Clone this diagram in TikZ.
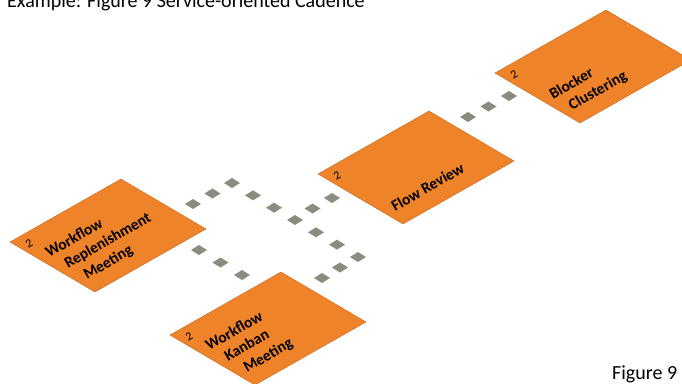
\documentclass[tikz,border=0pt]{standalone}
\usepackage{fontspec}
\setmainfont{Carlito}
\usetikzlibrary{calc}
\definecolor{boxorange}{RGB}{239,131,41}
\definecolor{boxedge}{RGB}{196,104,32}
\definecolor{sqgray}{RGB}{140,139,128}
\tikzset{
  card/.style={fill=boxorange,draw=boxedge,line width=0.4pt},
  cardtext/.style={anchor=base west,rotate=30,inner sep=0pt,font=\fontsize{15.5}{15.5}\selectfont\bfseries},
  cardnum/.style={anchor=center,rotate=30,inner sep=0pt,font=\fontsize{12}{12}\selectfont},
  caption/.style={anchor=base west,inner sep=0pt,font=\fontsize{20}{20}\selectfont},
  sq/.pic={\fill[sqgray] (-8,0) -- (0,-5) -- (8,0) -- (0,5) -- cycle;}
}
\begin{document}
\begin{tikzpicture}[x=1pt,y=-1pt]
\useasboundingbox (0,0) rectangle (682,383);
% corners of the four cards (left corner; u=(111,-63), v=(85,50))
\foreach \nm/\lx/\ly in {wrm/10/242, kan/170/335, flow/318/174, blk/495/73}{
  \coordinate (\nm L) at (\lx,\ly);
  \coordinate (\nm T) at ($(\nm L)+(111,-63)$);
  \coordinate (\nm R) at ($(\nm L)+(196,-13)$);
  \coordinate (\nm B) at ($(\nm L)+(85,50)$);
  \coordinate (\nm 1) at ($(\nm L)+(39,16)$);
  \coordinate (\nm 2) at ($(\nm L)+(58,27)$);
  \coordinate (\nm 3) at ($(\nm L)+(77,38)$);
  \draw[card] (\nm L) -- (\nm T) -- (\nm R) -- (\nm B) -- cycle;
  \node[cardnum] (\nm num) at ($(\nm L)+(19,2)$) {2};
}
% card texts
\node[cardtext] (wrmA) at (wrm1) {Workflow};
\node[cardtext] (wrmB) at (wrm2) {Replenishment};
\node[cardtext] (wrmC) at (wrm3) {Meeting};
\node[cardtext] (kanA) at (kan1) {Workflow};
\node[cardtext] (kanB) at (kan2) {Kanban};
\node[cardtext] (kanC) at (kan3) {Meeting};
\node[cardtext] (flowA) at (flow3) {Flow Review};
\node[cardtext] (blkA) at (blk2) {Blocker};
\node[cardtext] (blkB) at (blk3) {Clustering};
% dashed isometric connectors
\coordinate (a0) at (193,204);
\coordinate (a1) at (232,183);
\coordinate (a2) at (358,257);
\coordinate (a3) at (322,278);
\coordinate (c0) at (293,219);
\coordinate (c1) at (332,198);
\coordinate (b0) at (199,250);
\coordinate (b1) at (242,275);
\coordinate (d0) at (468,117);
\coordinate (d1) at (509,96);
\foreach \t in {0,0.5} \path ($(a0)!\t!(a1)$) pic{sq};
\foreach \t in {0,1/6,2/6,3/6,4/6,5/6} \path ($(a1)!\t!(a2)$) pic{sq};
\foreach \t in {0,0.5,1} \path ($(a2)!\t!(a3)$) pic{sq};
\foreach \t in {0.5,1} \path ($(c0)!\t!(c1)$) pic{sq};
\foreach \t in {0,0.5,1} \path ($(b0)!\t!(b1)$) pic{sq};
\foreach \t in {0,0.5,1} \path ($(d0)!\t!(d1)$) pic{sq};
% captions
\node[caption] (title) at (7,7) {Example: Figure 9 Service-oriented Cadence};
\node[caption] (fig) at (612,379) {Figure 9};
\end{tikzpicture}
\end{document}
